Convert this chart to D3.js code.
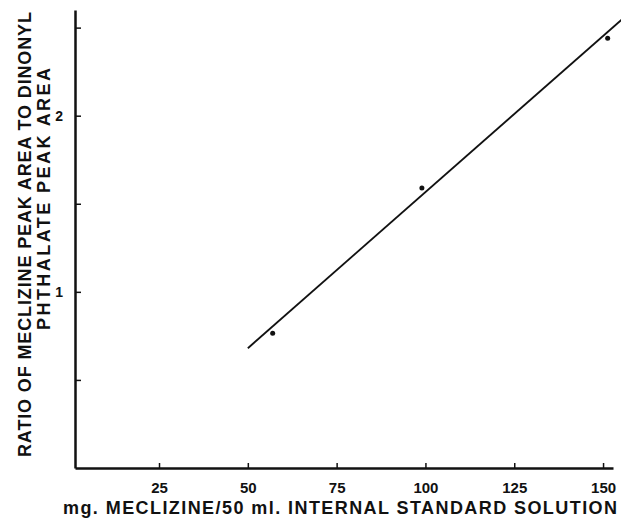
<!DOCTYPE html>
<html>
<head>
<meta charset="utf-8">
<script src="https://cdn.jsdelivr.net/npm/d3@7"></script>
<style>
  body { margin: 0; background: #fff; }
  svg { display: block; font-family: "Liberation Sans", Arial, sans-serif; }
  .tick text { font-size: 15px; font-weight: bold; fill: #111; }
  .title { font-size: 18px; font-weight: bold; fill: #111; }
</style>
</head>
<body>
<div class="chart"></div>
<script>
// Data
var mgMeclizine = [57, 99, 151.3];
var peakRatio = [0.765, 1.59, 2.44];

// calibration line end points
var fitX = [50, 155.5];
var fitY = [0.68, 2.55];

var xTicks = [25, 50, 75, 100, 125, 150];
var yTicks = [0.5, 1, 1.5, 2, 2.5];

var svgWidth = 621;
var svgHeight = 518;

var svg = d3.select(".chart")
  .append("svg")
  .attr("width", svgWidth)
  .attr("height", svgHeight);

// scales (pixel ranges fitted to the reference axes)
var xScale = d3.scaleLinear().domain([1.35, 152.8]).range([75, 613]);
var yScale = d3.scaleLinear().domain([0, 2.6]).range([468, 10]);

// x axis, ticks pointing up into the plot
var bottomAxis = d3.axisBottom(xScale)
  .tickValues(xTicks)
  .tickSizeInner(-5)
  .tickSizeOuter(0)
  .tickPadding(14);

var xAxisG = svg.append("g")
  .attr("transform", "translate(0," + yScale(0) + ")")
  .call(bottomAxis);
xAxisG.select(".domain").attr("stroke-width", 2.5).attr("stroke", "#111");
xAxisG.selectAll(".tick line").attr("stroke-width", 1.5).attr("stroke", "#111");

// y axis, ticks pointing right into the plot, labels only on integers
var leftAxis = d3.axisLeft(yScale)
  .tickValues(yTicks)
  .tickSizeInner(-6)
  .tickSizeOuter(0)
  .tickPadding(12)
  .tickFormat(function(d) { return d % 1 === 0 ? d : ""; });

var yAxisG = svg.append("g")
  .attr("transform", "translate(" + xScale.range()[0] + ",0)")
  .call(leftAxis);
yAxisG.select(".domain").attr("stroke-width", 2.5).attr("stroke", "#111");
yAxisG.selectAll(".tick line").attr("stroke-width", 1.5).attr("stroke", "#111");
yAxisG.selectAll(".tick text").style("font-size", "14px");

// fitted line
var line = d3.line()
  .x(function(d) { return xScale(d[0]); })
  .y(function(d) { return yScale(d[1]); });

svg.append("path")
  .datum(d3.zip(fitX, fitY))
  .attr("d", line)
  .attr("fill", "none")
  .attr("stroke", "#111")
  .attr("stroke-width", 1.8);

// measured points
svg.selectAll("circle.pt")
  .data(d3.zip(mgMeclizine, peakRatio))
  .enter()
  .append("circle")
  .attr("class", "pt")
  .attr("cx", function(d) { return xScale(d[0]); })
  .attr("cy", function(d) { return yScale(d[1]); })
  .attr("r", 2.5)
  .attr("fill", "#111");

// x axis title
svg.append("text")
  .attr("class", "title")
  .attr("x", 63)
  .attr("y", 514)
  .attr("textLength", 554)
  .attr("lengthAdjust", "spacing")
  .style("font-size", "18px")
  .text("mg. MECLIZINE/50 ml. INTERNAL STANDARD SOLUTION");

// y axis title, two lines
svg.append("text")
  .attr("class", "title")
  .attr("transform", "translate(31,457) rotate(-90)")
  .attr("textLength", 445)
  .attr("lengthAdjust", "spacing")
  .text("RATIO OF MECLIZINE PEAK AREA TO DINONYL");

svg.append("text")
  .attr("class", "title")
  .attr("transform", "translate(50,330) rotate(-90)")
  .attr("textLength", 262)
  .attr("lengthAdjust", "spacing")
  .text("PHTHALATE PEAK AREA");
</script>
</body>
</html>
